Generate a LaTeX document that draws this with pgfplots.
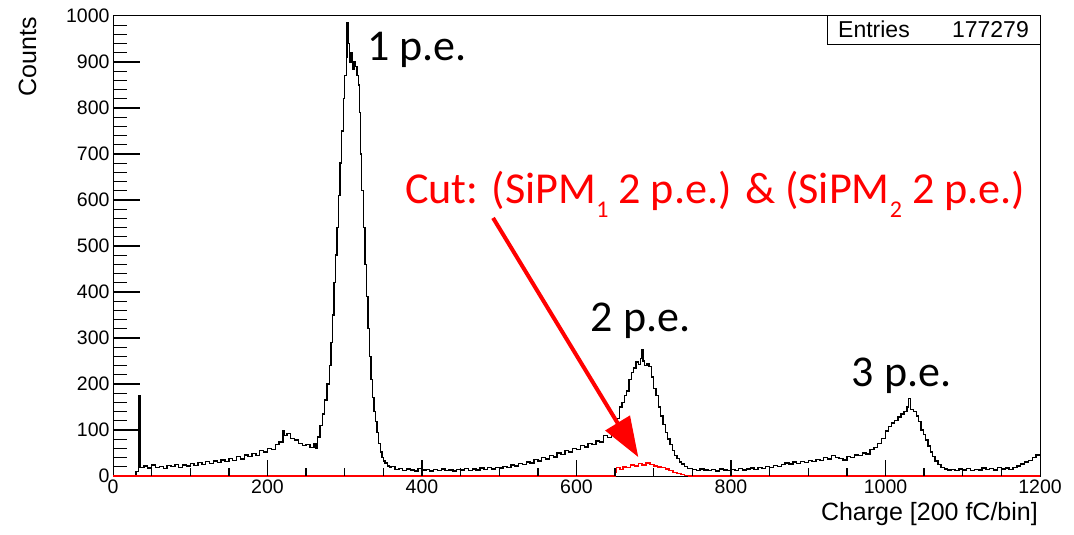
\documentclass[border=0pt]{standalone}
\usepackage{fontspec}
\setmainfont{Liberation Sans}
\newfontfamily\annot{Carlito}
\usepackage{pgfplots}
\usepackage{pgfplotstable}
\pgfplotsset{compat=1.18}
\usetikzlibrary{arrows.meta}

\pgfplotstableread{
x y
0 0
30 10
33 175
35 18
40 22
45 17
50 24
55 19
60 21
65 16
70 23
75 20
80 25
85 19
90 24
95 22
100 27
105 23
110 29
115 25
120 31
125 27
130 33
135 29
140 35
145 31
150 38
155 34
160 42
165 37
170 46
175 43
180 49
185 45
190 55
195 52
200 60
205 57
210 68
215 74
220 98
222 88
225 92
230 82
235 78
240 70
245 66
250 68
255 62
260 70
263 60
265 85
268 110
271 135
274 165
277 200
280 240
282 290
284 350
286 420
288 480
290 540
292 610
294 680
296 750
298 820
300 870
302 910
303 985
304 940
306 900
308 920
310 885
312 900
314 890
316 870
318 850
319 790
320 700
322 620
324 540
326 460
328 390
330 320
332 260
334 210
336 170
338 140
340 118
342 95
344 70
346 52
348 40
350 33
352 28
355 22
358 18
360 20
365 14
370 16
375 12
380 15
385 13
390 11
395 16
400 13
405 14
410 11
415 14
420 12
425 15
430 12
435 13
440 11
445 14
450 13
455 16
460 12
465 15
470 13
475 17
480 14
485 18
490 15
495 19
500 17
505 21
510 18
515 24
520 22
525 27
530 25
535 30
540 28
545 36
550 33
555 40
560 37
565 44
570 41
575 50
580 47
585 55
590 52
595 60
600 58
605 66
610 63
615 70
620 68
625 76
630 74
635 88
640 84
645 100
650 105
653 125
656 150
659 160
662 175
665 185
668 210
671 225
674 235
677 248
680 243
683 255
685 275
686 250
688 240
691 245
694 238
697 215
700 190
703 175
706 150
709 130
712 112
715 95
718 80
721 68
724 55
727 45
730 38
733 30
736 26
740 20
744 16
750 14
755 12
760 15
765 13
770 12
775 14
780 11
785 15
790 13
795 12
800 14
805 12
810 16
815 13
820 15
825 17
830 14
835 18
840 16
845 20
850 18
855 23
860 21
865 25
870 28
875 26
880 30
885 27
890 32
895 29
900 34
905 32
910 36
915 34
920 40
925 37
930 45
935 40
940 38
945 35
950 42
955 40
960 46
965 44
970 50
975 48
980 58
985 62
990 70
995 82
1000 98
1004 108
1008 115
1012 120
1016 128
1020 135
1024 140
1028 150
1030 168
1032 145
1036 140
1040 130
1043 118
1046 100
1049 90
1052 78
1055 65
1058 52
1061 42
1064 33
1068 25
1072 18
1076 15
1080 13
1085 14
1090 12
1095 15
1100 13
1105 16
1110 12
1115 14
1120 13
1125 17
1130 14
1135 16
1140 13
1145 18
1150 15
1155 17
1160 14
1165 19
1170 22
1175 26
1180 30
1185 34
1190 40
1195 46
1200 46
}\blackdata

\pgfplotstableread{
x y
0 0
650 8
652 18
656 14
660 20
665 18
670 24
675 22
680 27
685 24
690 28
695 25
700 22
705 20
710 18
715 15
720 12
725 8
730 5
735 3
740 1
745 0
1200 0
}\reddata

\begin{document}
\begin{tikzpicture}
\path[use as bounding box] (0bp,0bp) rectangle (1074bp,535bp);
\begin{axis}[
  at={(113bp,59bp)}, anchor=south west, scale only axis,
  width=927bp, height=460bp,
  xmin=0, xmax=1200, ymin=0, ymax=1000,
  xtick={0,200,...,1200}, ytick={0,100,...,1000},
  major tick length=0pt, minor tick length=0pt,
  axis line style={line width=1bp},
  /pgf/number format/assume math mode=true,
  /pgf/number format/1000 sep={},
  ticklabel style={font=\fontsize{19.5bp}{21bp}\selectfont},
  clip=false,
]
\addplot[const plot, black, line width=1.4bp] table[x=x,y=y] {\blackdata};
\addplot[const plot, red, line width=1.5bp] table[x=x,y=y] {\reddata};
\draw[red, line width=4bp, -{Triangle[length=40bp,width=28bp]}] (axis cs:492,561) -- (axis cs:680,41);
\node[anchor=base west, inner sep=0, font=\annot\fontsize{44bp}{48bp}\selectfont] at (axis cs:328.8,904) {1 p.e.};
\node[anchor=base west, inner sep=0, font=\annot\fontsize{44bp}{48bp}\selectfont] at (axis cs:618.4,313.7) {2 p.e.};
\node[anchor=base west, inner sep=0, font=\annot\fontsize{44bp}{48bp}\selectfont] at (axis cs:956.2,194) {3 p.e.};
\node[anchor=base west, inner sep=0, text=red, font=\annot\fontsize{44.2bp}{48bp}\selectfont] at (axis cs:378,592) {Cut: (SiPM\raisebox{-0.32em}{\fontsize{24bp}{24bp}\selectfont 1} 2 p.e.) \& (SiPM\raisebox{-0.32em}{\fontsize{24bp}{24bp}\selectfont 2} 2 p.e.)};
\end{axis}
% ROOT-style tick marks (inside; bottom and left only)
\draw[draw=black, line width=1.3bp]
  (267.5bp,59bp) -- (267.5bp,75bp)
  (422bp,59bp) -- (422bp,75bp)
  (576.5bp,59bp) -- (576.5bp,75bp)
  (731bp,59bp) -- (731bp,75bp)
  (885.5bp,59bp) -- (885.5bp,75bp)
  (151.6bp,59bp) -- (151.6bp,67bp)
  (190.3bp,59bp) -- (190.3bp,67bp)
  (228.9bp,59bp) -- (228.9bp,67bp)
  (306.1bp,59bp) -- (306.1bp,67bp)
  (344.8bp,59bp) -- (344.8bp,67bp)
  (383.4bp,59bp) -- (383.4bp,67bp)
  (460.6bp,59bp) -- (460.6bp,67bp)
  (499.3bp,59bp) -- (499.3bp,67bp)
  (537.9bp,59bp) -- (537.9bp,67bp)
  (615.1bp,59bp) -- (615.1bp,67bp)
  (653.8bp,59bp) -- (653.8bp,67bp)
  (692.4bp,59bp) -- (692.4bp,67bp)
  (769.6bp,59bp) -- (769.6bp,67bp)
  (808.3bp,59bp) -- (808.3bp,67bp)
  (846.9bp,59bp) -- (846.9bp,67bp)
  (924.1bp,59bp) -- (924.1bp,67bp)
  (962.8bp,59bp) -- (962.8bp,67bp)
  (1001.4bp,59bp) -- (1001.4bp,67bp);
\draw[draw=black, line width=1.3bp]
  (113bp,105bp) -- (140bp,105bp)
  (113bp,151bp) -- (140bp,151bp)
  (113bp,197bp) -- (140bp,197bp)
  (113bp,243bp) -- (140bp,243bp)
  (113bp,289bp) -- (140bp,289bp)
  (113bp,335bp) -- (140bp,335bp)
  (113bp,381bp) -- (140bp,381bp)
  (113bp,427bp) -- (140bp,427bp)
  (113bp,473bp) -- (140bp,473bp)
  (113bp,68.2bp) -- (127bp,68.2bp)
  (113bp,77.4bp) -- (127bp,77.4bp)
  (113bp,86.6bp) -- (127bp,86.6bp)
  (113bp,95.8bp) -- (127bp,95.8bp)
  (113bp,114.2bp) -- (127bp,114.2bp)
  (113bp,123.4bp) -- (127bp,123.4bp)
  (113bp,132.6bp) -- (127bp,132.6bp)
  (113bp,141.8bp) -- (127bp,141.8bp)
  (113bp,160.2bp) -- (127bp,160.2bp)
  (113bp,169.4bp) -- (127bp,169.4bp)
  (113bp,178.6bp) -- (127bp,178.6bp)
  (113bp,187.8bp) -- (127bp,187.8bp)
  (113bp,206.2bp) -- (127bp,206.2bp)
  (113bp,215.4bp) -- (127bp,215.4bp)
  (113bp,224.6bp) -- (127bp,224.6bp)
  (113bp,233.8bp) -- (127bp,233.8bp)
  (113bp,252.2bp) -- (127bp,252.2bp)
  (113bp,261.4bp) -- (127bp,261.4bp)
  (113bp,270.6bp) -- (127bp,270.6bp)
  (113bp,279.8bp) -- (127bp,279.8bp)
  (113bp,298.2bp) -- (127bp,298.2bp)
  (113bp,307.4bp) -- (127bp,307.4bp)
  (113bp,316.6bp) -- (127bp,316.6bp)
  (113bp,325.8bp) -- (127bp,325.8bp)
  (113bp,344.2bp) -- (127bp,344.2bp)
  (113bp,353.4bp) -- (127bp,353.4bp)
  (113bp,362.6bp) -- (127bp,362.6bp)
  (113bp,371.8bp) -- (127bp,371.8bp)
  (113bp,390.2bp) -- (127bp,390.2bp)
  (113bp,399.4bp) -- (127bp,399.4bp)
  (113bp,408.6bp) -- (127bp,408.6bp)
  (113bp,417.8bp) -- (127bp,417.8bp)
  (113bp,436.2bp) -- (127bp,436.2bp)
  (113bp,445.4bp) -- (127bp,445.4bp)
  (113bp,454.6bp) -- (127bp,454.6bp)
  (113bp,463.8bp) -- (127bp,463.8bp)
  (113bp,482.2bp) -- (127bp,482.2bp)
  (113bp,491.4bp) -- (127bp,491.4bp)
  (113bp,500.6bp) -- (127bp,500.6bp)
  (113bp,509.8bp) -- (127bp,509.8bp);
\draw[line width=1bp, fill=white] (827bp,490bp) rectangle (1040bp,519bp);
\node[anchor=base west, inner sep=0, font=\fontsize{23bp}{25bp}\selectfont] at (838bp,497.3bp) {Entries};
\node[anchor=base east, inner sep=0, font=\fontsize{23bp}{25bp}\selectfont] at (1029bp,497.3bp) {177279};
\node[rotate=90, anchor=east, inner sep=0, font=\fontsize{25bp}{27bp}\selectfont] at (27.5bp,518bp) {Counts};
\node[anchor=base east, inner sep=0, font=\fontsize{25bp}{27bp}\selectfont] at (1038bp,15bp) {Charge [200 fC/bin]};
\end{tikzpicture}
\end{document}
